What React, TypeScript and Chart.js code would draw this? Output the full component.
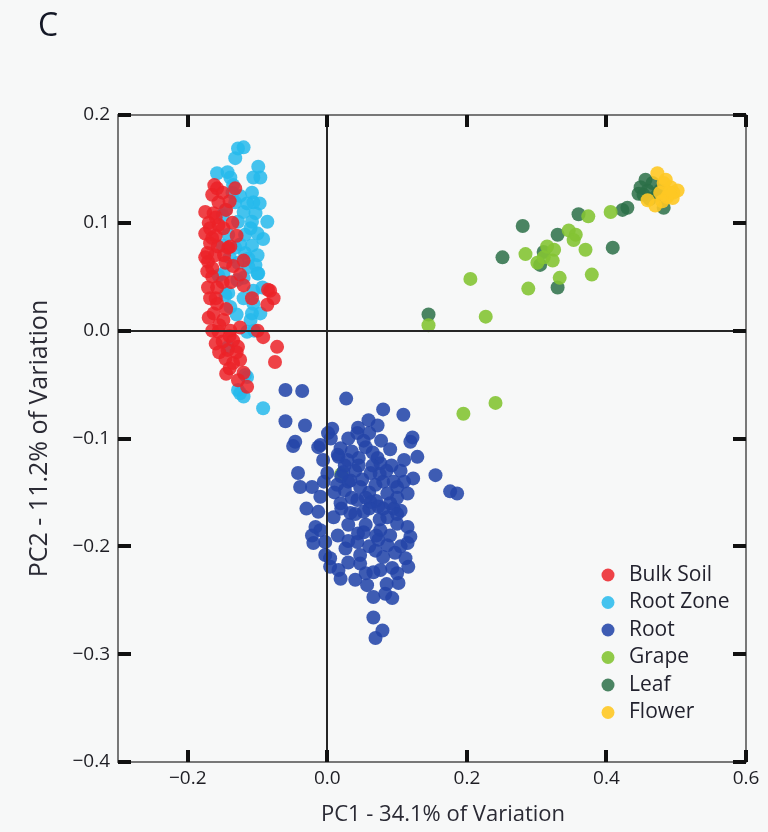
import React, { useEffect, useRef } from "react";
import { Chart, registerables } from "chart.js";

Chart.register(...registerables);

const seriesNames = ["Bulk Soil", "Root Zone", "Root", "Grape", "Leaf", "Flower"];
const seriesColors = [
  "rgba(236,34,40,0.85)",
  "rgba(38,186,236,0.85)",
  "rgba(36,70,168,0.88)",
  "rgba(132,196,52,0.9)",
  "rgba(44,112,72,0.85)",
  "rgba(254,200,36,0.9)",
];

const xTickValues = [-0.2, 0, 0.2, 0.4, 0.6];
const yTickValues = [0.2, 0.1, 0, -0.1, -0.2, -0.3, -0.4];

const bulkSoil: [number, number][] = [
  [-0.158, 0.132], [-0.165, 0.126], [-0.132, 0.132], [-0.156, 0.119], [-0.163, 0.109],
  [-0.156, 0.098], [-0.136, 0.1], [-0.149, 0.095], [-0.165, 0.086], [-0.142, 0.077],
  [-0.172, 0.072], [-0.161, 0.07], [-0.12, 0.065], [-0.146, 0.063], [-0.171, 0.064],
  [-0.168, 0.081], [-0.175, 0.068], [-0.171, 0.04], [-0.158, 0.04], [-0.139, 0.078],
  [-0.12, 0.042], [-0.085, 0.038], [-0.077, 0.03], [-0.086, 0.024], [-0.108, 0.03],
  [-0.158, 0.025], [-0.163, 0.016], [-0.149, 0.01], [-0.156, -0.001], [-0.139, 0.0],
  [-0.125, 0.003], [-0.1, 0.0], [-0.092, -0.006], [-0.135, -0.009], [-0.128, -0.015],
  [-0.143, -0.018], [-0.072, -0.015], [-0.075, -0.029], [-0.146, -0.026], [-0.135, -0.03],
  [-0.125, -0.027], [-0.12, -0.039], [-0.128, -0.046], [-0.115, -0.052],
  [-0.165, 0.05], [-0.16, 0.03], [-0.15, 0.045], [-0.145, 0.02], [-0.155, 0.005],
  [-0.165, 0.0], [-0.15, -0.01], [-0.14, -0.005], [-0.13, -0.02], [-0.14, -0.035],
  [-0.15, 0.128], [-0.145, 0.112], [-0.17, 0.1], [-0.16, 0.088], [-0.13, 0.088],
  [-0.125, 0.052], [-0.135, 0.06], [-0.165, 0.058], [-0.175, 0.09], [-0.082, 0.037],
  [-0.175, 0.11], [-0.168, 0.095], [-0.172, 0.055], [-0.168, 0.03], [-0.17, 0.012],
  [-0.16, -0.012], [-0.155, -0.02], [-0.145, -0.04], [-0.138, 0.045], [-0.148, 0.07],
  [-0.157, 0.078], [-0.16, 0.105], [-0.14, 0.12], [-0.162, 0.135],
];

const rootZone: [number, number][] = [
  [-0.128, 0.169], [-0.12, 0.17], [-0.132, 0.16], [-0.099, 0.152], [-0.106, 0.142],
  [-0.096, 0.142], [-0.158, 0.146], [-0.143, 0.147], [-0.139, 0.142], [-0.136, 0.128],
  [-0.108, 0.128], [-0.106, 0.119], [-0.132, 0.119], [-0.146, 0.112], [-0.12, 0.11],
  [-0.103, 0.109], [-0.086, 0.101], [-0.108, 0.101], [-0.128, 0.101], [-0.15, 0.107],
  [-0.1, 0.09], [-0.118, 0.089], [-0.142, 0.089], [-0.108, 0.079], [-0.132, 0.077],
  [-0.15, 0.079], [-0.113, 0.067], [-0.128, 0.063], [-0.103, 0.061],
  [-0.115, -0.043], [-0.125, -0.058], [-0.12, -0.061], [-0.092, -0.072], [-0.149, 0.053],
  [-0.129, 0.047], [-0.106, 0.037], [-0.1, 0.053], [-0.096, 0.016], [-0.11, 0.01],
  [-0.106, 0.025], [-0.142, 0.035], [-0.139, 0.022], [-0.115, -0.001], [-0.113, 0.059],
  [-0.118, -0.041], [-0.128, -0.055], [-0.142, -0.015], [-0.146, 0.033], [-0.108, 0.016],
  [-0.099, 0.053], [-0.12, 0.049], [-0.156, 0.051],
  [-0.135, 0.135], [-0.125, 0.125], [-0.115, 0.118], [-0.097, 0.118], [-0.092, 0.085],
  [-0.118, 0.072], [-0.14, 0.068], [-0.125, 0.08], [-0.11, 0.095], [-0.1, 0.07],
  [-0.093, 0.04], [-0.12, 0.03], [-0.13, 0.015], [-0.105, 0.0],
];

const root: [number, number][] = [
  [-0.06, -0.055], [-0.036, -0.056], [0.027, -0.063], [-0.06, -0.084], [-0.032, -0.088],
  [-0.046, -0.103], [-0.049, -0.107], [0.08, -0.073], [0.109, -0.078], [0.059, -0.083],
  [0.072, -0.088], [0.044, -0.09], [0.007, -0.091], [0.001, -0.095], [0.043, -0.095],
  [-0.01, -0.106], [-0.013, -0.108], [0.019, -0.109], [0.052, -0.102], [0.077, -0.102],
  [0.122, -0.099], [0.119, -0.103], [0.129, -0.117], [-0.006, -0.12], [0.016, -0.117],
  [0.029, -0.12], [0.072, -0.118], [0.076, -0.123], [0.155, -0.134], [0.176, -0.149],
  [0.186, -0.151], [-0.042, -0.132], [0.0, -0.132], [0.023, -0.131], [0.04, -0.13],
  [0.062, -0.132], [0.105, -0.13], [0.123, -0.137], [0.115, -0.151], [0.1, -0.145],
  [-0.039, -0.145], [-0.022, -0.145], [-0.01, -0.154], [0.014, -0.143], [0.033, -0.139],
  [0.047, -0.145], [0.069, -0.143], [0.086, -0.151], [0.019, -0.16], [0.043, -0.157],
  [0.062, -0.159], [0.073, -0.163], [0.095, -0.165], [0.105, -0.167], [-0.013, -0.168],
  [0.009, -0.173], [0.033, -0.169], [0.052, -0.168], [0.086, -0.173], [0.1, -0.179],
  [0.115, -0.182], [-0.017, -0.182], [-0.01, -0.185], [-0.022, -0.19], [-0.02, -0.197],
  [-0.003, -0.196], [0.044, -0.188], [0.052, -0.187], [0.076, -0.185], [0.073, -0.194],
  [0.119, -0.191], [0.115, -0.197], [0.026, -0.202], [0.043, -0.196], [0.069, -0.204],
  [0.086, -0.199], [0.097, -0.206], [-0.003, -0.208], [0.004, -0.211], [0.047, -0.208],
  [0.047, -0.216], [0.112, -0.211], [0.116, -0.219], [0.004, -0.219], [0.016, -0.222],
  [0.019, -0.23], [0.066, -0.224], [0.076, -0.222], [0.093, -0.22], [0.1, -0.225],
  [0.04, -0.231], [0.057, -0.236], [0.102, -0.234], [0.066, -0.247], [0.083, -0.244],
  [0.093, -0.248], [0.066, -0.266], [0.079, -0.278], [0.069, -0.285],
  [0.015, -0.115], [0.025, -0.125], [0.035, -0.112], [0.045, -0.118], [0.055, -0.108],
  [0.065, -0.125], [0.03, -0.14], [0.05, -0.138], [0.06, -0.15], [0.07, -0.158],
  [0.08, -0.14], [0.09, -0.16], [0.075, -0.175], [0.06, -0.165], [0.04, -0.17],
  [0.025, -0.148], [0.01, -0.15], [0.085, -0.13], [0.095, -0.14], [0.1, -0.155],
  [0.055, -0.18], [0.07, -0.19], [0.03, -0.18], [0.02, -0.165],
  [0.005, -0.1], [0.03, -0.1], [0.06, -0.095], [0.09, -0.11], [0.11, -0.12],
  [0.02, -0.135], [0.045, -0.125], [0.075, -0.133], [0.092, -0.125], [0.11, -0.14],
  [0.035, -0.155], [0.055, -0.155], [0.08, -0.165], [0.1, -0.17], [0.015, -0.19],
  [0.03, -0.195], [0.06, -0.2], [0.08, -0.21], [0.09, -0.19], [0.105, -0.2],
  [0.03, -0.215], [0.055, -0.225], [0.085, -0.235], [-0.03, -0.165], [-0.005, -0.14],
  [0.065, -0.113],
];

const grape: [number, number][] = [
  [0.145, 0.005], [0.227, 0.013], [0.205, 0.048], [0.288, 0.039], [0.333, 0.049],
  [0.284, 0.071], [0.301, 0.063], [0.315, 0.078], [0.323, 0.065], [0.346, 0.093],
  [0.356, 0.089], [0.353, 0.084], [0.37, 0.075], [0.374, 0.106], [0.379, 0.052],
  [0.406, 0.11], [0.325, 0.075], [0.195, -0.077], [0.241, -0.067], [0.02, -0.133],
  [0.31, 0.068],
];

const leaf: [number, number][] = [
  [0.145, 0.015], [0.251, 0.068], [0.28, 0.097], [0.33, 0.089], [0.31, 0.073],
  [0.305, 0.061], [0.33, 0.04], [0.36, 0.108], [0.409, 0.077], [0.423, 0.112],
  [0.43, 0.114], [0.482, 0.114], [0.449, 0.133], [0.459, 0.13], [0.453, 0.126],
  [0.466, 0.137], [0.473, 0.126], [0.446, 0.127], [0.477, 0.13], [0.456, 0.14],
  [0.462, 0.122],
];

const flower: [number, number][] = [
  [0.473, 0.146], [0.482, 0.137], [0.492, 0.133], [0.496, 0.128], [0.487, 0.124],
  [0.459, 0.121], [0.47, 0.116], [0.495, 0.123], [0.477, 0.128], [0.502, 0.13],
  [0.485, 0.14], [0.49, 0.128], [0.48, 0.12],
];

const seriesData = [bulkSoil, rootZone, root, grape, leaf, flower];
// drawing order: first dataset in this list is drawn on top
const drawOrder = [5, 0, 1, 2, 3, 4];

const FONT = "'Open Sans', 'Noto Sans', sans-serif";

function fmt(v: number): string {
  const s = Math.abs(v).toFixed(1);
  return v < -1e-9 ? "\u2212" + s : s;
}

const overlayPlugin = {
  id: "overlay",
  afterDraw(chart: any) {
    const { ctx, chartArea, scales } = chart;
    const { left, right, top, bottom } = chartArea;
    const xs = scales.x;
    const ys = scales.y;
    ctx.save();
    // zero lines
    ctx.fillStyle = "#262626";
    const x0 = Math.round(xs.getPixelForValue(0));
    const y0 = Math.round(ys.getPixelForValue(0));
    ctx.fillRect(x0 - 1, top, 2, bottom - top);
    ctx.fillRect(left, y0 - 1, right - left, 2);
    // frame
    ctx.strokeStyle = "#6a6a6a";
    ctx.lineWidth = 1.8;
    ctx.strokeRect(left, top, right - left, bottom - top);
    // inward ticks
    ctx.fillStyle = "#111111";
    xTickValues.forEach((v) => {
      const px = Math.round(xs.getPixelForValue(v));
      ctx.fillRect(px - 2, bottom - 12, 4, 12);
      ctx.fillRect(px - 2, top, 4, 12);
    });
    yTickValues.forEach((v) => {
      const py = Math.round(ys.getPixelForValue(v));
      ctx.fillRect(left, py - 2, 13, 4);
      ctx.fillRect(right - 13, py - 2, 13, 4);
    });
    // legend
    const lx = 608;
    const ly0 = 575;
    const step = 27.5;
    ctx.font = `21px ${FONT}`;
    ctx.textAlign = "left";
    ctx.textBaseline = "middle";
    seriesNames.forEach((name, i) => {
      const yy = ly0 + i * step;
      ctx.fillStyle = seriesColors[i];
      ctx.beginPath();
      ctx.arc(lx, yy, 6.5, 0, Math.PI * 2);
      ctx.fill();
      ctx.fillStyle = "#22222e";
      ctx.fillText(name, lx + 21, yy);
    });
    // axis titles
    ctx.fillStyle = "#2a2a34";
    ctx.font = `22px ${FONT}`;
    ctx.textAlign = "center";
    ctx.textBaseline = "middle";
    ctx.fillText("PC1 - 34.1% of Variation", (left + right) / 2 + 11, 815);
    ctx.save();
    ctx.translate(40, (top + bottom) / 2);
    ctx.rotate(-Math.PI / 2);
    ctx.font = `25px ${FONT}`;
    ctx.fillText("PC2 - 11.2% of Variation", 0, 0);
    ctx.restore();
    // panel letter
    ctx.font = `32px ${FONT}`;
    ctx.fillStyle = "#141826";
    ctx.textAlign = "left";
    ctx.textBaseline = "middle";
    ctx.fillText("C", 38, 27);
    ctx.restore();
  },
};

export default function App() {
  const canvasRef = useRef<HTMLCanvasElement | null>(null);

  useEffect(() => {
    document.body.style.margin = "0";
    document.body.style.background = "#f7f8f8";
    const canvas = canvasRef.current;
    if (!canvas) return;
    const datasets = drawOrder.map((idx) => ({
      label: seriesNames[idx],
      data: seriesData[idx].map(([x, y]) => ({ x, y })),
      backgroundColor: seriesColors[idx],
      borderWidth: 0,
      pointRadius: 7,
      pointHoverRadius: 7,
    }));
    const chart = new Chart(canvas, {
      type: "scatter",
      data: { datasets },
      options: {
        animation: false,
        responsive: true,
        maintainAspectRatio: false,
        layout: { padding: { top: 115, right: 22, left: 0, bottom: 0 } },
        plugins: {
          legend: { display: false },
          tooltip: { enabled: false },
          title: { display: false },
        },
        scales: {
          x: {
            type: "linear",
            min: -0.3,
            max: 0.6,
            grid: { display: false, drawTicks: false },
            border: { display: false },
            afterBuildTicks: (s: any) => {
              s.ticks = xTickValues.map((v) => ({ value: v }));
            },
            afterFit: (s: any) => {
              s.height = 70;
            },
            ticks: {
              autoSkip: false,
              maxRotation: 0,
              padding: 5,
              color: "#1e1e24",
              font: { family: FONT, size: 19 },
              callback: (v: any) => fmt(Number(v)),
            },
          },
          y: {
            type: "linear",
            min: -0.4,
            max: 0.2,
            grid: { display: false, drawTicks: false },
            border: { display: false },
            afterBuildTicks: (s: any) => {
              s.ticks = yTickValues.map((v) => ({ value: v }));
            },
            afterFit: (s: any) => {
              s.width = 118;
            },
            ticks: {
              autoSkip: false,
              padding: 8,
              color: "#1e1e24",
              font: { family: FONT, size: 19 },
              callback: (v: any) => fmt(Number(v)),
            },
          },
        },
      },
      plugins: [overlayPlugin],
    });
    return () => chart.destroy();
  }, []);

  return (
    <div
      style={{
        position: "fixed",
        left: 0,
        top: 0,
        width: 768,
        height: 832,
        background: "#f7f8f8",
      }}
    >
      <canvas ref={canvasRef} />
    </div>
  );
}
